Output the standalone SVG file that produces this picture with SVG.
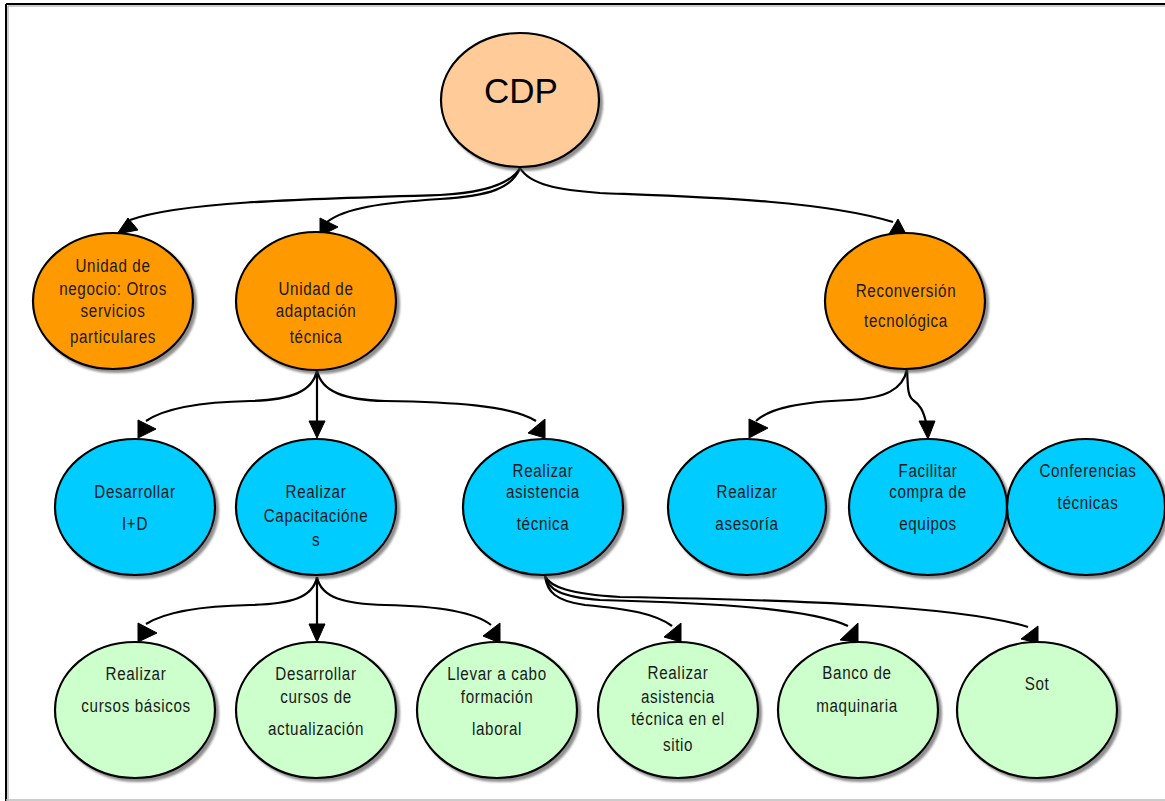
<svg xmlns="http://www.w3.org/2000/svg" width="1165" height="801" viewBox="0 0 1165 801">
  <defs>
    <filter id="shadow" x="-10%" y="-10%" width="125%" height="125%">
      <feDropShadow dx="3" dy="3" stdDeviation="1.2" flood-color="#444" flood-opacity="0.6"/>
    </filter>
  </defs>
  <style>
    .node ellipse { stroke: #000; stroke-width: 2.2; filter: url(#shadow); }
    .root ellipse { fill: #FFCC99; }
    .unit ellipse { fill: #FF9900; }
    .task ellipse { fill: #00CCFF; }
    .leaf ellipse { fill: #CCFFCC; }
    .node text { font-family: "Liberation Sans", Arial, sans-serif; font-size: 19px; fill: #1a1a1a; text-anchor: middle; letter-spacing: 0.8px; }
    .root text { font-size: 35px; letter-spacing: 0; fill: #000; }
    .edges path { fill: none; stroke: #000; stroke-width: 2.2; }
    .edges polygon { fill: #000; stroke: #000; stroke-width: 1; stroke-linejoin: round; }
  </style>

  <rect x="0" y="0" width="1165" height="801" fill="#fff"/>
  <!-- page frame -->
  <g id="frame">
    <line x1="6" y1="4" x2="1165" y2="4" stroke="#000" stroke-width="2"/>
    <line x1="6" y1="4" x2="6" y2="801" stroke="#000" stroke-width="2"/>
    <line x1="8" y1="6" x2="1165" y2="6" stroke="#999" stroke-width="1"/>
    <line x1="8" y1="6" x2="8" y2="801" stroke="#999" stroke-width="1"/>
    <line x1="6" y1="800" x2="1165" y2="800" stroke="#bbb" stroke-width="1.5"/>
  </g>

  <!-- connectors -->
  <g id="connectors" class="edges">
    <!-- CDP -->
    <path d="M520,168 C510,185 480,193 440,195 C300,199 180,202 130,220"/>
    <polygon points="117,234 138,230 128,218"/>
    <path d="M520,168 C512,188 490,196 440,199 C380,203 345,208 327,222"/>
    <polygon points="320,218 320,236 338,227"/>
    <path d="M520,168 C530,185 560,190 600,193 C700,197 820,200 893,222"/>
    <polygon points="889,234 906,234 898,219"/>

    <!-- Unidad de adaptación técnica -->
    <path d="M317,370 C313,392 290,400 250,401 C200,402 165,408 146,421"/>
    <polygon points="138,420 138,438 156,429"/>
    <path d="M317,370 L317,422"/>
    <polygon points="309,421 325,421 317,438"/>
    <path d="M317,370 C321,392 345,400 385,401 C450,402 510,405 536,421"/>
    <polygon points="545,419 545,438 528,433"/>

    <!-- Reconversión tecnológica -->
    <path d="M907,369 C903,390 885,398 850,400 C800,402 770,408 756,421"/>
    <polygon points="749,419 749,438 768,428"/>
    <path d="M907,369 C908,385 907,395 913,400 C920,405 923,410 926,422"/>
    <polygon points="919,421 935,421 928,439"/>

    <!-- Realizar Capacitaciones -->
    <path d="M317,577 C313,598 290,604 250,605 C200,606 165,612 146,624"/>
    <polygon points="138,623 138,642 157,633"/>
    <path d="M317,577 L317,625"/>
    <polygon points="309,624 325,624 317,642"/>
    <path d="M317,577 C321,598 345,604 385,605 C440,606 475,612 491,625"/>
    <polygon points="500,623 500,643 483,636"/>

    <!-- Realizar asistencia técnica -->
    <path d="M545,576 C547,592 556,601 585,605 C630,609 656,614 672,626"/>
    <polygon points="681,623 681,642 664,637"/>
    <path d="M545,576 C548,589 560,597 600,600 C720,603 810,609 848,626"/>
    <polygon points="858,623 858,642 840,640"/>
    <path d="M545,576 C550,587 570,594 620,597 C800,600 960,606 1028,627"/>
    <polygon points="1038,626 1038,643 1021,639"/>
  </g>

  <!-- nodes -->
  <g id="n-cdp" class="node root">
    <ellipse cx="520" cy="100" rx="79" ry="67"/>
    <text x="521" y="103">CDP</text>
  </g>

  <g id="n-negocio" class="node unit">
    <ellipse cx="113" cy="301" rx="80" ry="68"/>
    <g transform="translate(113,0) scale(0.8,1)">
      <text x="0" y="272">Unidad de</text>
      <text x="0" y="295">negocio: Otros</text>
      <text x="0" y="317">servicios</text>
      <text x="0" y="343">particulares</text>
    </g>
  </g>

  <g id="n-adaptacion" class="node unit">
    <ellipse cx="316" cy="301" rx="80" ry="69"/>
    <g transform="translate(316,0) scale(0.8,1)">
      <text x="0" y="295">Unidad de</text>
      <text x="0" y="317">adaptación</text>
      <text x="0" y="343">técnica</text>
    </g>
  </g>

  <g id="n-reconversion" class="node unit">
    <ellipse cx="905" cy="301" rx="80" ry="68"/>
    <g transform="translate(906,0) scale(0.8,1)">
      <text x="0" y="297">Reconversión</text>
      <text x="0" y="327">tecnológica</text>
    </g>
  </g>

  <g id="n-id" class="node task">
    <ellipse cx="135" cy="507" rx="80" ry="68"/>
    <g transform="translate(135,0) scale(0.8,1)">
      <text x="0" y="498">Desarrollar</text>
      <text x="0" y="530">I+D</text>
    </g>
  </g>

  <g id="n-capacitaciones" class="node task">
    <ellipse cx="316" cy="507" rx="80" ry="68"/>
    <g transform="translate(316,0) scale(0.8,1)">
      <text x="0" y="498">Realizar</text>
      <text x="0" y="522">Capacitacióne</text>
      <text x="0" y="546">s</text>
    </g>
  </g>

  <g id="n-asistencia" class="node task">
    <ellipse cx="543" cy="507" rx="80" ry="68"/>
    <g transform="translate(543,0) scale(0.8,1)">
      <text x="0" y="477">Realizar</text>
      <text x="0" y="498">asistencia</text>
      <text x="0" y="530">técnica</text>
    </g>
  </g>

  <g id="n-asesoria" class="node task">
    <ellipse cx="747" cy="507" rx="79" ry="68"/>
    <g transform="translate(747,0) scale(0.8,1)">
      <text x="0" y="498">Realizar</text>
      <text x="0" y="530">asesoría</text>
    </g>
  </g>

  <g id="n-facilitar" class="node task">
    <ellipse cx="928" cy="507" rx="79" ry="68"/>
    <g transform="translate(928,0) scale(0.8,1)">
      <text x="0" y="477">Facilitar</text>
      <text x="0" y="498">compra de</text>
      <text x="0" y="530">equipos</text>
    </g>
  </g>

  <g id="n-conferencias" class="node task">
    <ellipse cx="1086" cy="507" rx="79" ry="68"/>
    <g transform="translate(1088,0) scale(0.8,1)">
      <text x="0" y="477">Conferencias</text>
      <text x="0" y="509">técnicas</text>
    </g>
  </g>

  <g id="n-cursos" class="node leaf">
    <ellipse cx="135" cy="710" rx="80" ry="68"/>
    <g transform="translate(136,0) scale(0.8,1)">
      <text x="0" y="680">Realizar</text>
      <text x="0" y="712">cursos básicos</text>
    </g>
  </g>

  <g id="n-actualizacion" class="node leaf">
    <ellipse cx="316" cy="710" rx="80" ry="68"/>
    <g transform="translate(316,0) scale(0.8,1)">
      <text x="0" y="680">Desarrollar</text>
      <text x="0" y="703">cursos de</text>
      <text x="0" y="735">actualización</text>
    </g>
  </g>

  <g id="n-formacion" class="node leaf">
    <ellipse cx="497" cy="710" rx="80" ry="68"/>
    <g transform="translate(497,0) scale(0.8,1)">
      <text x="0" y="680">Llevar a cabo</text>
      <text x="0" y="703">formación</text>
      <text x="0" y="735">laboral</text>
    </g>
  </g>

  <g id="n-sitio" class="node leaf">
    <ellipse cx="678" cy="710" rx="80" ry="68"/>
    <g transform="translate(678,0) scale(0.8,1)">
      <text x="0" y="679">Realizar</text>
      <text x="0" y="703">asistencia</text>
      <text x="0" y="725">técnica en el</text>
      <text x="0" y="751">sitio</text>
    </g>
  </g>

  <g id="n-banco" class="node leaf">
    <ellipse cx="858" cy="710" rx="80" ry="68"/>
    <g transform="translate(857,0) scale(0.8,1)">
      <text x="0" y="679">Banco de</text>
      <text x="0" y="712">maquinaria</text>
    </g>
  </g>

  <g id="n-sot" class="node leaf">
    <ellipse cx="1037" cy="710" rx="80" ry="68"/>
    <g transform="translate(1037,0) scale(0.8,1)">
      <text x="0" y="690">Sot</text>
    </g>
  </g>
</svg>
